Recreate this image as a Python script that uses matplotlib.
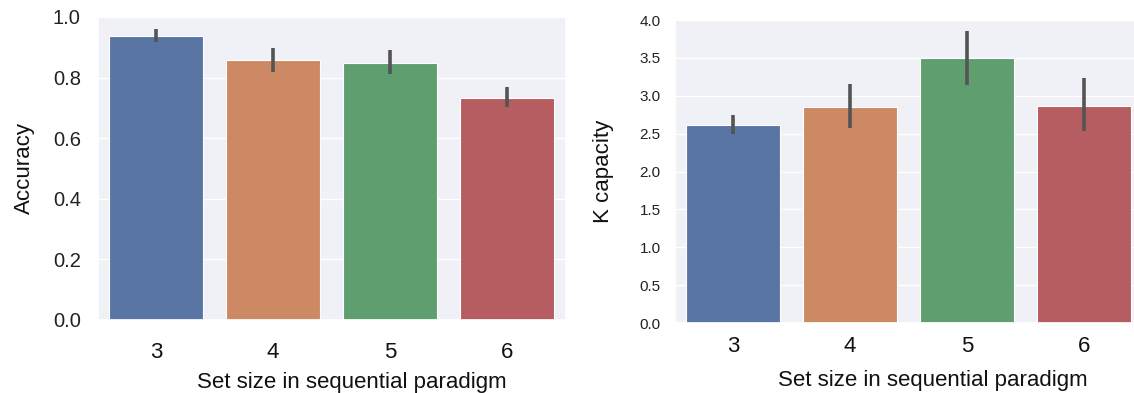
import matplotlib
matplotlib.use("Agg")
import matplotlib.pyplot as plt
import seaborn as sns
import numpy as np

set_sizes = ["3", "4", "5", "6"]
accuracy = [0.937, 0.857, 0.849, 0.733]
accuracy_lo = [0.917, 0.818, 0.813, 0.704]
accuracy_hi = [0.960, 0.898, 0.890, 0.770]
k_capacity = [2.61, 2.855, 3.50, 2.865]
k_lo = [2.49, 2.57, 3.14, 2.54]
k_hi = [2.75, 3.16, 3.86, 3.24]

sns.set_theme(style="darkgrid", rc={"axes.facecolor": "#F0F0F7"})
plt.rcParams['font.family'] = ['Liberation Sans', 'DejaVu Sans']
colors = [sns.desaturate(c, 0.75) for c in sns.color_palette("deep", 4)]

fig = plt.figure(figsize=(11.34, 3.93), dpi=100)
ax1 = fig.add_axes([0.086, 0.1858, 0.4127, 0.771])
ax2 = fig.add_axes([0.5948, 0.178, 0.4127, 0.771])

def draw(ax, vals, lo, hi, ylabel, ytick_size, ytick_pad, ylim, yticks, xpad, xlpad, ylpad, xl_x):
    x = np.arange(len(set_sizes))
    ax.bar(x, vals, width=0.8, color=colors, edgecolor="white", linewidth=0.8)
    ax.vlines(x, lo, hi, color=".33", linewidth=2.6)
    ax.set_xlim(-0.5, len(set_sizes) - 0.5)
    ax.set_ylim(*ylim)
    ax.set_yticks(yticks)
    ax.set_yticklabels([f"{t:.1f}" for t in yticks])
    ax.set_xticks(x)
    ax.set_xticklabels(set_sizes)
    ax.tick_params(axis="y", labelsize=ytick_size, pad=ytick_pad, length=0, labelcolor="#222222")
    ax.tick_params(axis="x", labelsize=16, pad=xpad, length=0, labelcolor="#111111")
    ax.grid(axis="x", visible=False)
    ax.set_xlabel("Set size in sequential paradigm", fontsize=16, labelpad=xlpad, color="#111111")
    ax.set_ylabel(ylabel, fontsize=16, labelpad=ylpad, color="#111111")
    ax.xaxis.label.set_x(xl_x)

draw(ax1, accuracy, accuracy_lo, accuracy_hi, "Accuracy", 14.5, 12,
     (0, 1.0), [0.0, 0.2, 0.4, 0.6, 0.8, 1.0], 16, 6, 13, 0.543)
draw(ax2, k_capacity, k_lo, k_hi, "K capacity", 11, 10,
     (0, 4.0), [0.0, 0.5, 1.0, 1.5, 2.0, 2.5, 3.0, 3.5, 4.0], 9, 10, 18, 0.551)

fig.savefig("out.png", dpi=100)
